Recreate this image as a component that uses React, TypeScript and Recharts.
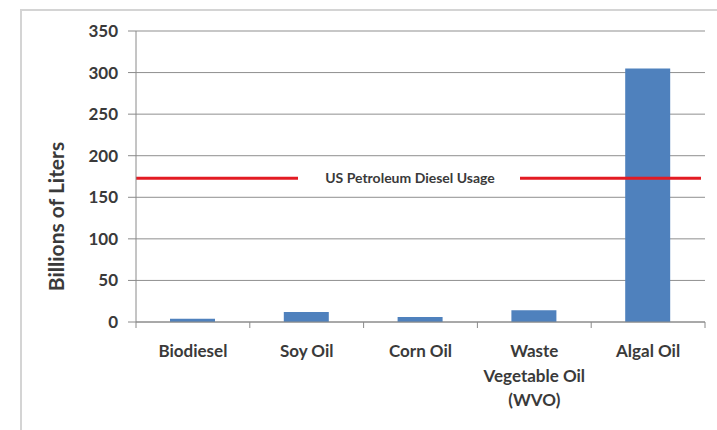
import React from 'react';
import { BarChart, Bar, XAxis, YAxis, CartesianGrid, ReferenceLine } from 'recharts';

// Estimated annual production potential, billions of liters
const feedstocks = ['Biodiesel', 'Soy Oil', 'Corn Oil', 'Waste Vegetable Oil (WVO)', 'Algal Oil'];
const feedstockLines = [['Biodiesel'], ['Soy Oil'], ['Corn Oil'], ['Waste', 'Vegetable Oil', '(WVO)'], ['Algal Oil']];
const liters = [4, 12, 6, 14, 305];
const usDieselUsage = 173;
const usDieselLabel = 'US Petroleum Diesel Usage';
const yTicks = [0, 50, 100, 150, 200, 250, 300, 350];

const data = feedstocks.map((name, i) => ({ name, liters: liters[i] }));

const FONT = 'Lato, "Open Sans", sans-serif';
const TEXT = '#3a3a3a';
const AXIS = '#8a8a8a';

const CategoryTick = (props: any) => {
  const { x, y, payload, index } = props;
  const half = 113.8 / 2;
  const lines = feedstockLines[index] || [payload.value];
  return (
    <g>
      <line x1={x - half} x2={x - half} y1={y - 8} y2={y - 2} stroke={AXIS} />
      {index === feedstocks.length - 1 && (
        <line x1={x + half} x2={x + half} y1={y - 8} y2={y - 2} stroke={AXIS} />
      )}
      {lines.map((t: string, i: number) => (
        <text
          key={i}
          x={x}
          y={y + 27 + i * 24.5}
          textAnchor="middle"
          fill={TEXT}
          fontFamily={FONT}
          fontWeight={700}
          fontSize={17}
        >
          {t}
        </text>
      ))}
    </g>
  );
};

const DieselLabel = (props: any) => {
  const { viewBox } = props;
  const { x, y } = viewBox;
  return (
    <g>
      <rect x={x + 162} y={y - 6} width={222} height={12} fill="#ffffff" />
      <rect x={x + 565} y={y - 6} width={10} height={12} fill="#ffffff" />
      <text
        x={x + 274}
        y={y + 5}
        textAnchor="middle"
        fill={TEXT}
        fontFamily={FONT}
        fontWeight={700}
        fontSize={14}
      >
        {usDieselLabel}
      </text>
    </g>
  );
};

export default function App() {
  return (
    <div style={{ position: 'fixed', left: 0, top: 0, width: 717, height: 430, background: '#fff', overflow: 'hidden' }}>
      <div
        style={{
          position: 'absolute',
          left: 20,
          top: 9,
          width: 720,
          height: 440,
          border: '2px solid #d4d4d4',
          boxSizing: 'border-box',
        }}
      />
      <div style={{ position: 'absolute', left: 0, top: 0 }}>
        <BarChart width={717} height={430} data={data} margin={{ top: 31, right: 12, bottom: 48, left: 76 }}>
          <CartesianGrid vertical={false} stroke="#8f8f8f" />
          <XAxis
            dataKey="name"
            interval={0}
            height={60}
            stroke={AXIS}
            tickLine={false}
            tick={<CategoryTick />}
          />
          <YAxis
            domain={[0, 350]}
            ticks={yTicks}
            width={60}
            stroke={AXIS}
            tickSize={8}
            tickMargin={10}
            tick={{ fill: TEXT, fontFamily: FONT, fontWeight: 700, fontSize: 17 }}
            label={{
              value: 'Billions of Liters',
              angle: -90,
              position: 'insideLeft',
              dx: -24,
              dy: 40,
              style: { fill: TEXT, fontFamily: FONT, fontWeight: 700, fontSize: 21, textAnchor: 'middle' },
            }}
          />
          <Bar dataKey="liters" fill="#4f81bd" barSize={45} isAnimationActive={false} />
          <ReferenceLine y={usDieselUsage} stroke="#e31b23" strokeWidth={3} label={<DieselLabel />} />
        </BarChart>
      </div>
    </div>
  );
}
